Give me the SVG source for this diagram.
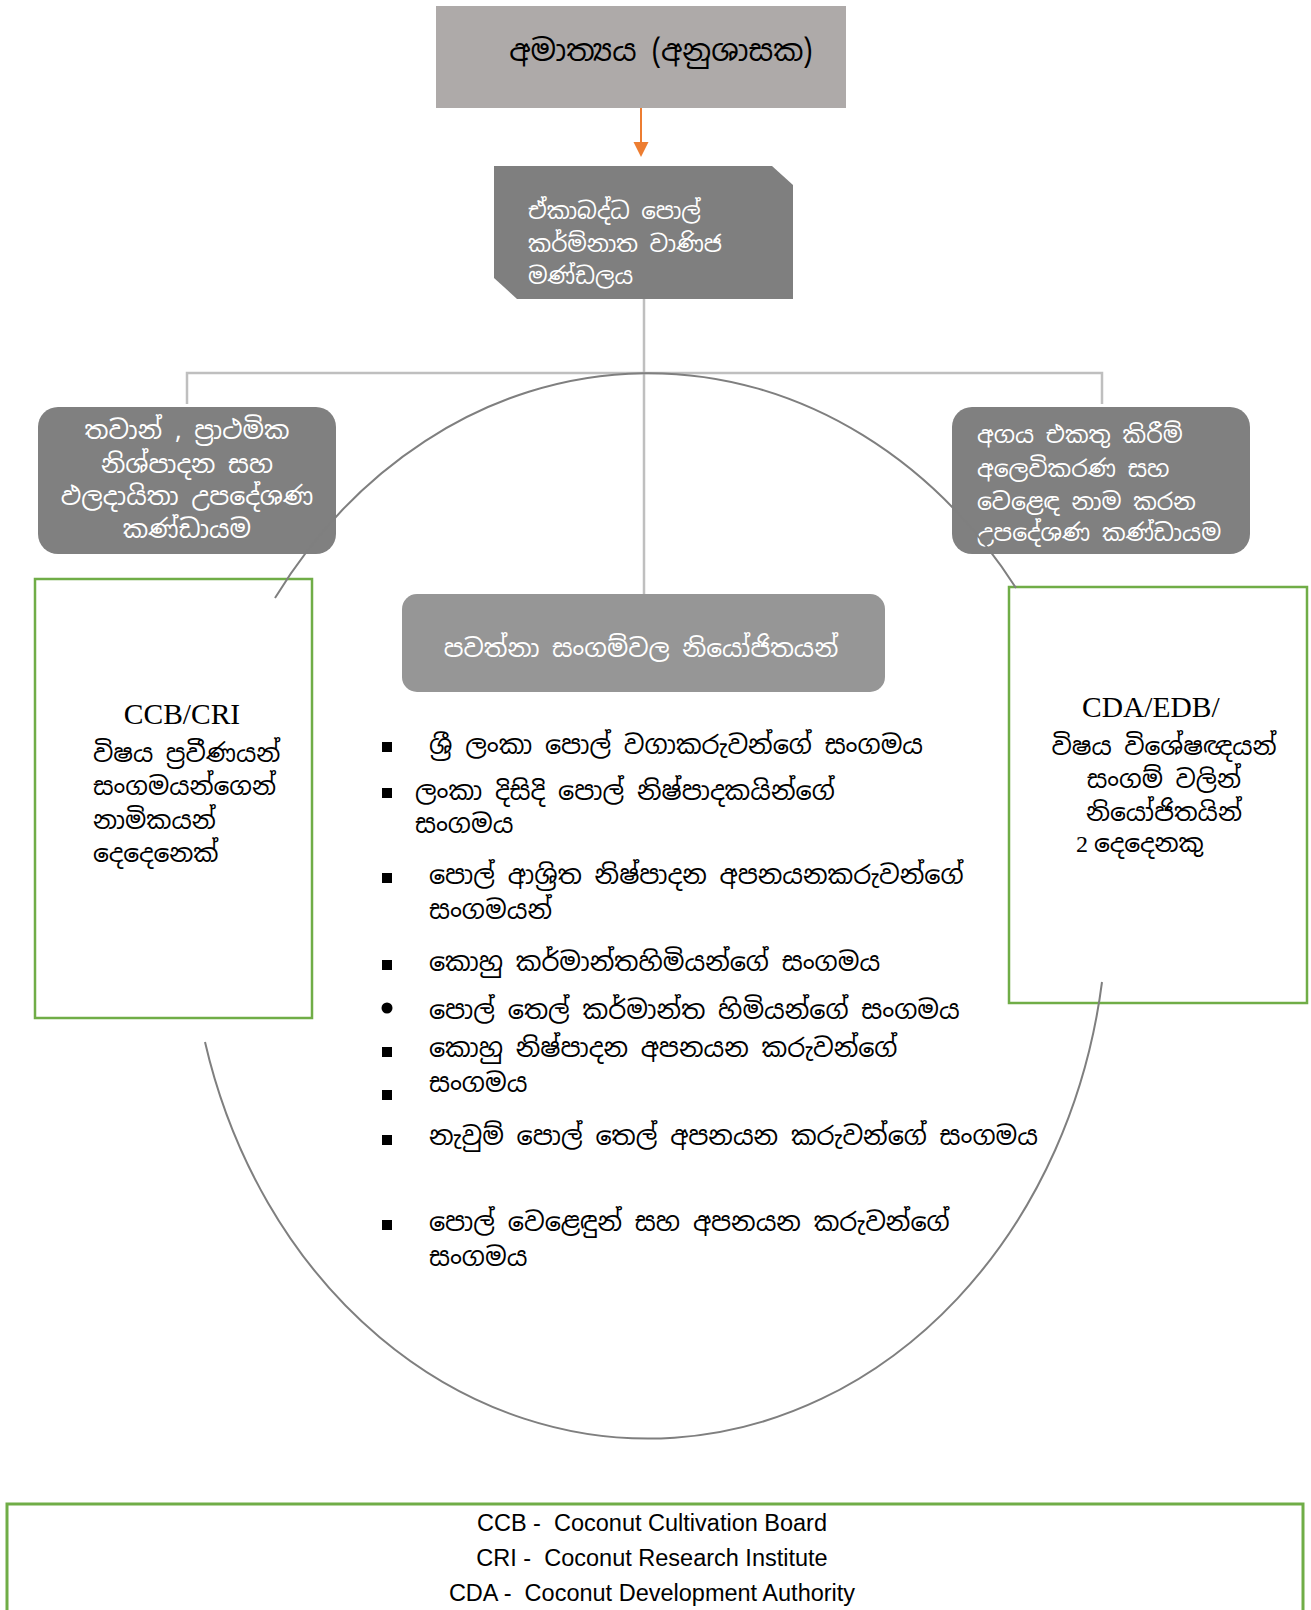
<svg xmlns="http://www.w3.org/2000/svg" width="1311" height="1610" viewBox="0 0 1311 1610">
<style>
.si{font-family:"Noto Sans Sinhala","Noto Serif Sinhala","Iskoola Pota","Noto Sans",sans-serif;font-size:25px;fill:#000}
.w{fill:#fff}
.tm{font-family:"Liberation Serif","Times New Roman",serif;font-size:29.5px;fill:#000}
.lg{font-family:"Liberation Sans",Arial,sans-serif;font-size:23.5px;fill:#000}
.conn{stroke:#BFBFBF;stroke-width:2.5;fill:none}
.arc{stroke:#7F7F7F;stroke-width:2;fill:none}
.green{fill:#fff;stroke:#70AD47;stroke-width:2.5}
.gb{fill:#808080}
.bl{fill:#000}
.s23{font-size:23px}
.s235{font-size:23.5px}
.s253{font-size:25.3px}
.s255{font-size:25.5px}
</style>
<rect width="1311" height="1610" fill="#fff"/>

<g id="connectors">
<line x1="641" y1="108" x2="641" y2="142" stroke="#ED7D31" stroke-width="2"/>
<path d="M633.5,142 L648.5,142 L641,157 Z" fill="#ED7D31"/>
<line class="conn" x1="644" y1="299" x2="644" y2="594"/>
<polyline class="conn" points="187,404 187,373 1102,373 1102,404"/>
</g>

<g id="n-ministry">
<rect x="436" y="6" width="410" height="102" fill="#AEAAA9"/>
<text class="si" x="661" y="61" text-anchor="middle" style="font-size:30px">අමාත්‍යය (අනුශාසක)</text>
</g>

<g id="n-board">
<path d="M494,166 L772,166 L793,185 L793,299 L517,299 L494,278 Z" fill="#7F7F7F"/>
<text class="si w s23" x="528" y="219">ඒකාබද්ධ පොල්</text>
<text class="si w s23" x="528" y="252">කර්ම්නාත වාණිජ</text>
<text class="si w s23" x="528" y="284">මණ්ඩලය</text>
</g>

<g id="n-left-grey">
<rect class="gb" x="38" y="407" width="298" height="147" rx="20"/>
<text class="si w s253" x="187" y="439" text-anchor="middle">තවාන් , ප්‍රාථමික</text>
<text class="si w s253" x="187" y="473" text-anchor="middle">නිශ්පාදන සහ</text>
<text class="si w s253" x="187" y="505" text-anchor="middle">ඵලදායිතා උපදේශණ</text>
<text class="si w s253" x="187" y="538" text-anchor="middle">කණ්ඩායම</text>
</g>

<g id="n-right-grey">
<rect class="gb" x="952" y="407" width="298" height="147" rx="20"/>
<text class="si w s235" x="977" y="443">අගය එකතු කිරීම්</text>
<text class="si w s235" x="977" y="477">අලෙවිකරණ සහ</text>
<text class="si w s235" x="977" y="510">වෙළෙඳ නාම කරන</text>
<text class="si w s235" x="977" y="541">උපදේශණ කණ්ඩායම</text>
</g>

<g id="n-left-green">
<rect class="green" x="35" y="579" width="277" height="439"/>
<text class="tm" x="182" y="724" text-anchor="middle">CCB/CRI</text>
<text class="si" x="93" y="762">විෂය ප්‍රවීණයන්</text>
<text class="si" x="93" y="795">සංගමයන්ගෙන්</text>
<text class="si" x="93" y="829">නාමිකයන්</text>
<text class="si" x="93" y="862">දෙදෙනෙක්</text>
</g>

<g id="n-right-green">
<rect class="green" x="1009" y="587" width="298" height="416"/>
<text class="tm" x="1082" y="717">CDA/EDB/</text>
<text class="si" x="1164" y="755" text-anchor="middle">විෂය විශේෂඥයන්</text>
<text class="si" x="1164" y="788" text-anchor="middle">සංගම් වලින්</text>
<text class="si" x="1164" y="821" text-anchor="middle">නියෝජිතයින්</text>
<text class="tm" x="1076" y="852" style="font-size:24px">2</text>
<text class="si" x="1094" y="852">දෙදෙනකු</text>
</g>

<g id="circle">
<path class="arc" d="M275,598 A459,536.5 0 0 1 1016,588"/>
<path class="arc" d="M1102,982 A459,536.5 0 0 1 205,1042"/>
</g>

<g id="n-center">
<rect x="402" y="594" width="483" height="98" rx="15" fill="#969696"/>
<text class="si w" x="641" y="657" text-anchor="middle">පවත්නා සංගම්වල නියෝජිතයන්</text>
</g>

<g id="list">
<rect class="bl" x="382" y="742" width="10" height="10"/>
<text class="si s255" x="429" y="754">ශ්‍රී ලංකා පොල් වගාකරුවන්ගේ සංගමය</text>
<rect class="bl" x="382" y="788" width="10" height="10"/>
<text class="si s255" x="415" y="800">ලංකා දිසිදි පොල් නිෂ්පාදකයින්ගේ</text>
<text class="si s255" x="415" y="833">සංගමය</text>
<rect class="bl" x="382" y="873" width="10" height="10"/>
<text class="si s255" x="429" y="884">පොල් ආශ්‍රිත නිෂ්පාදන අපනයනකරුවන්ගේ</text>
<text class="si s255" x="429" y="919">සංගමයන්</text>
<rect class="bl" x="382" y="960" width="10" height="10"/>
<text class="si s255" x="429" y="971">කොහු කර්මාන්තහිමියන්ගේ සංගමය</text>
<circle class="bl" cx="387" cy="1008" r="5.5"/>
<text class="si s255" x="429" y="1019">පොල් තෙල් කර්මාන්ත හිමියන්ගේ සංගමය</text>
<rect class="bl" x="382" y="1047" width="10" height="10"/>
<text class="si s255" x="429" y="1057">කොහු නිෂ්පාදන අපනයන කරුවන්ගේ</text>
<text class="si s255" x="429" y="1092">සංගමය</text>
<rect class="bl" x="382" y="1090" width="10" height="10"/>
<rect class="bl" x="382" y="1135" width="10" height="10"/>
<text class="si s255" x="429" y="1145">නැවුම් පොල් තෙල් අපනයන කරුවන්ගේ සංගමය</text>
<rect class="bl" x="382" y="1220" width="10" height="10"/>
<text class="si s255" x="429" y="1231">පොල් වෙළෙඳුන් සහ අපනයන කරුවන්ගේ</text>
<text class="si s255" x="429" y="1266">සංගමය</text>
</g>

<g id="legend">
<rect x="7" y="1504" width="1296" height="130" fill="#fff" stroke="#70AD47" stroke-width="3"/>
<text class="lg" x="652" y="1531" text-anchor="middle">CCB - &#160;Coconut Cultivation Board</text>
<text class="lg" x="652" y="1566" text-anchor="middle">CRI - &#160;Coconut Research Institute</text>
<text class="lg" x="652" y="1601" text-anchor="middle">CDA - &#160;Coconut Development Authority</text>
</g>
</svg>
